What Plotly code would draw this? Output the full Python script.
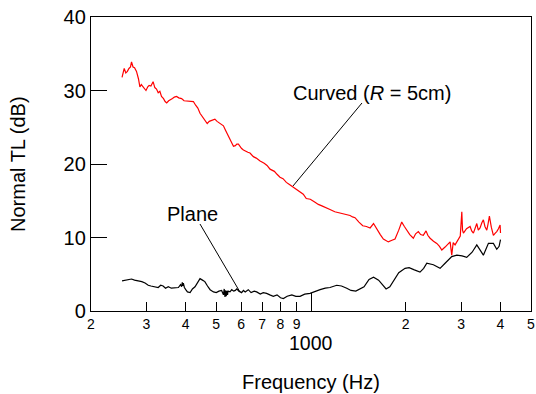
import plotly.graph_objects as go

# ---- data ----
curved_freq = [251, 255, 258, 261, 264, 267, 269, 272, 275, 279, 283, 286, 289, 293, 296, 299,
               303, 306, 310, 315, 319, 323, 327, 331, 335, 340, 344, 348, 353, 358, 363, 368,
               374, 380, 388, 395, 403, 413, 423, 430, 437, 444, 452, 460, 468, 475, 482, 489,
               495, 503, 511, 519, 527, 535, 545, 553, 560, 567, 575, 581, 588, 595, 602, 610,
               620, 630, 640, 648, 656, 670, 689, 710, 725, 741, 765, 780, 797, 815, 835, 854,
               875, 900, 923, 945, 966, 995, 1030, 1055, 1083, 1115, 1149, 1190, 1237, 1280,
               1331, 1355, 1380, 1420, 1460, 1500, 1541, 1580, 1625, 1660, 1698, 1730, 1761,
               1800, 1849, 1900, 1942, 1980, 2015, 2060, 2114, 2150, 2193, 2230, 2274, 2320,
               2350, 2390, 2450, 2510, 2560, 2604, 2667, 2720, 2767, 2800, 2830, 2869, 2900,
               2940, 2980, 3014, 3030, 3050, 3120, 3202, 3240, 3281, 3320, 3363, 3400, 3444,
               3490, 3529, 3570, 3618, 3650, 3688, 3740, 3797, 3850, 3892, 3940, 3988, 4000]
curved_db = [31.8, 33.0, 32.4, 32.6, 33.0, 33.2, 33.9, 33.2, 33.1, 32.6, 31.6, 30.5, 30.8, 30.5, 30.2, 30.0,
             30.5, 30.7, 30.6, 31.2, 30.4, 30.2, 29.7, 29.9, 29.2, 28.9, 28.5, 28.3, 28.6, 28.7, 28.9, 29.1,
             29.2, 29.0, 28.9, 28.6, 28.6, 28.5, 28.5, 28.0, 27.6, 26.9, 26.4, 26.0, 25.5, 25.8, 25.9, 26.1,
             26.1, 25.8, 25.6, 25.3, 25.2, 24.6, 23.9, 23.3, 22.8, 22.4, 22.5, 22.7, 22.7, 22.3, 22.1, 21.9,
             21.7, 21.6, 21.5, 21.3, 21.0, 20.8, 20.4, 20.1, 19.8, 19.3, 19.0, 18.6, 18.2, 18.0, 17.5, 17.2,
             16.9, 16.6, 16.2, 15.9, 15.3, 15.2, 14.8, 14.5, 14.3, 14.1, 13.8, 13.5, 13.3, 13.2,
             13.0, 12.8, 12.7, 12.1, 11.6, 11.5, 11.3, 11.9, 11.0, 10.4, 9.8, 9.6, 9.4,
             9.6, 9.8, 11.0, 12.1, 11.5, 11.0, 10.4, 9.9, 10.5, 10.8, 10.4, 10.3, 10.9,
             10.3, 9.9, 9.5, 9.2, 8.8, 8.3, 8.7, 9.1, 9.4, 7.6, 9.3, 9.0, 9.4,
             9.7, 10.2, 13.5, 11.0, 10.6, 11.2, 11.5, 10.9, 10.6, 11.3, 11.9, 11.0, 11.3,
             12.0, 12.4, 11.5, 11.0, 11.8, 12.9, 11.4, 10.3, 10.6, 10.8, 11.2, 11.7, 10.6]

plane_freq = [251, 258, 265, 269, 275, 282, 290, 297, 304, 310, 318, 327, 333, 339, 345, 352,
              360, 370, 379, 385, 388, 390, 392, 393, 396, 400, 405, 413, 420, 428, 436, 444,
              452, 460, 469, 478, 490, 500, 510, 520, 527, 530, 533, 536, 538, 540, 543, 545,
              553, 560, 568, 575, 581, 590, 602, 610, 618, 632, 645, 660, 672, 690, 705, 723,
              740, 759, 780, 800, 817, 840, 869, 895, 923, 955, 993, 1030, 1069, 1110, 1149,
              1207, 1250, 1299, 1340, 1388, 1430, 1474, 1529, 1580, 1640, 1700, 1732, 1780,
              1843, 1900, 1990, 2050, 2130, 2220, 2280, 2333, 2448, 2571, 2667, 2800, 2906,
              3020, 3124, 3250, 3363, 3440, 3529, 3662, 3797, 3892, 3960, 4000]
plane_db = [4.1, 4.2, 4.3, 4.35, 4.2, 4.1, 4.0, 3.8, 3.5, 3.4, 3.3, 3.2, 3.5, 3.4, 3.1, 3.3,
            3.1, 3.2, 3.2, 3.6, 3.3, 3.9, 3.4, 3.8, 3.2, 2.9, 2.6, 2.5, 3.0, 3.3, 3.9, 4.4,
            4.2, 4.0, 3.4, 2.9, 2.6, 2.5, 2.7, 2.8, 2.2, 3.0, 1.9, 2.8, 2.0, 2.7, 2.2, 2.7,
            2.6, 2.9, 2.7, 2.8, 3.0, 2.7, 2.5, 2.8, 2.6, 2.9, 2.5, 2.7, 2.6, 2.3, 2.5, 2.4,
            2.2, 2.0, 2.2, 1.8, 1.7, 2.0, 2.2, 2.0, 2.0, 2.3, 2.4, 2.7, 2.9, 3.1, 3.2,
            3.5, 3.4, 3.1, 2.8, 2.7, 3.0, 3.3, 4.3, 4.6, 4.2, 3.4, 3.0, 3.3,
            4.3, 5.2, 5.8, 5.9, 5.6, 5.3, 5.8, 6.5, 6.3, 5.8, 6.5, 7.4, 7.6,
            7.5, 7.3, 8.0, 9.0, 8.3, 7.6, 9.2, 9.2, 8.4, 8.8, 9.7]

x_tick_vals = [200, 300, 400, 500, 600, 700, 800, 900, 2000, 3000, 4000, 5000]
x_tick_text = ["2", "3", "4", "5", "6", "7", "8", "9", "2", "3", "4", "5"]
x_major_val = [1000]
y_tick_vals = [0, 10, 20, 30, 40]

FONT = "Liberation Sans, Arial, sans-serif"

fig = go.Figure()
fig.add_trace(go.Scatter(x=curved_freq, y=curved_db, mode="lines",
                         line=dict(color="#ff0000", width=1.2), showlegend=False))
fig.add_trace(go.Scatter(x=plane_freq, y=plane_db, mode="lines",
                         line=dict(color="#000000", width=1.2), showlegend=False))

fig.update_layout(
    width=536, height=394,
    margin=dict(l=91, r=5, t=17, b=83, autoexpand=False),
    paper_bgcolor="white", plot_bgcolor="white",
    font=dict(family=FONT, color="black"),
    showlegend=False,
    xaxis=dict(type="log", range=[2.30103, 3.69897], automargin=False,
               tickmode="array", tickvals=x_tick_vals, ticktext=x_tick_text,
               ticks="inside", ticklen=9, tickwidth=1, tickcolor="black",
               tickfont=dict(size=14, family=FONT, color="black"),
               minor=dict(tickmode="array", tickvals=x_major_val, ticks="inside",
                          ticklen=18, tickwidth=1, tickcolor="black", showgrid=False),
               showline=True, linecolor="black", linewidth=1.3, mirror=True,
               showgrid=False, zeroline=False),
    yaxis=dict(range=[0, 40], tickmode="array", tickvals=y_tick_vals, automargin=False,
               ticks="inside", ticklen=16, tickwidth=1, tickcolor="black",
               tickfont=dict(size=20, family=FONT, color="black"),
               showline=True, linecolor="black", linewidth=1.3, mirror=True,
               showgrid=False, zeroline=False),
)

annotations = [
    dict(text="1000", x=0.5, y=-0.108, xref="paper", yref="paper",
         showarrow=False, font=dict(size=19.5), xanchor="center", yanchor="middle",
         borderpad=0),
    dict(text="Frequency (Hz)", x=0.5, y=-0.2415, xref="paper", yref="paper",
         showarrow=False, font=dict(size=20), xanchor="center", yanchor="middle"),
    dict(text="Normal TL (dB)", x=-0.1659, y=0.5, xref="paper", yref="paper",
         showarrow=False, font=dict(size=20), textangle=-90,
         xanchor="center", yanchor="middle"),
    dict(text="Curved (<i>R</i> = 5cm)", x=0.6375, y=0.7415, xref="paper", yref="paper",
         showarrow=False, font=dict(size=20), xanchor="center", yanchor="middle"),
    dict(text="Plane", x=0.2318, y=0.330, xref="paper", yref="paper",
         showarrow=False, font=dict(size=20), xanchor="center", yanchor="middle"),
]
fig.update_layout(annotations=annotations)

fig.add_shape(type="line", xref="paper", yref="paper",
              x0=0.6159, y0=0.7075, x1=0.4591, y1=0.4252,
              line=dict(color="black", width=1))
fig.add_shape(type="line", xref="paper", yref="paper",
              x0=0.2477, y0=0.2959, x1=0.3386, y1=0.0646,
              line=dict(color="black", width=1))

fig.write_html("out.html")
